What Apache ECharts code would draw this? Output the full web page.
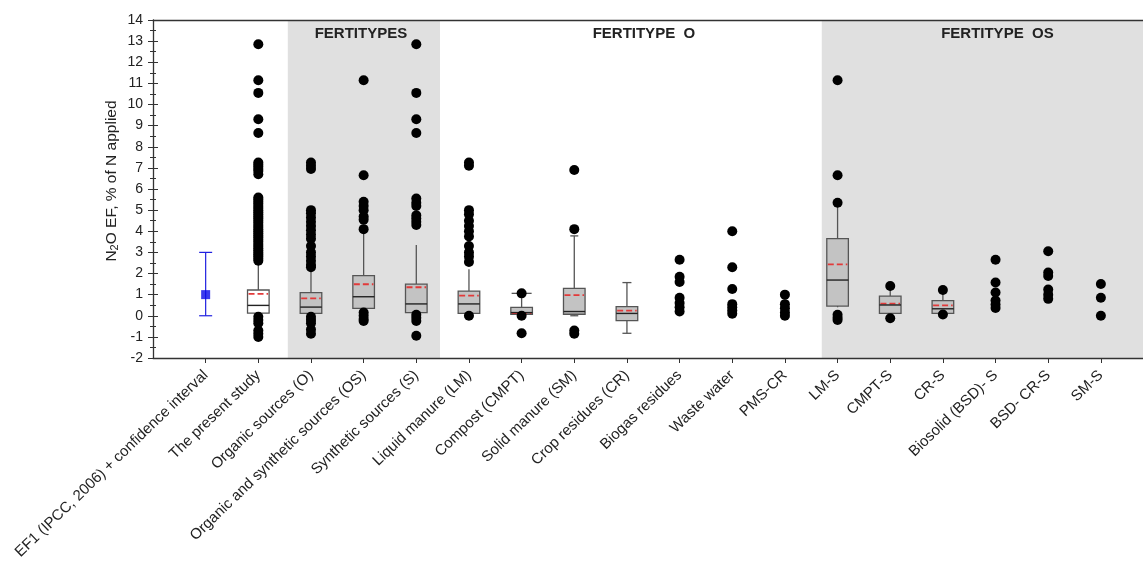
<!DOCTYPE html>
<html><head><meta charset="utf-8">
<script src="https://cdn.jsdelivr.net/npm/echarts/dist/echarts.min.js"></script>
<style>html,body{margin:0;padding:0;background:#fff}#c{width:1143px;height:570px}</style>
</head><body><div id="c"></div>
<script>
// ---------------- DATA ----------------
const CATEGORIES = [
  'EF1 (IPCC, 2006) + confidence interval', 'The present study', 'Organic sources (O)',
  'Organic and synthetic sources (OS)', 'Synthetic sources (S)', 'Liquid manure (LM)',
  'Compost (CMPT)', 'Solid manure (SM)', 'Crop residues (CR)', 'Biogas residues',
  'Waste water', 'PMS-CR', 'LM-S', 'CMPT-S', 'CR-S', 'Biosolid (BSD)- S', 'BSD- CR-S', 'SM-S'
];
const Y_TICKS = [-2,-1,0,1,2,3,4,5,6,7,8,9,10,11,12,13,14];

// IPCC EF1 default value and confidence interval
const EF1_VALUE = 1.0;
const EF1_CI = [0.0, 3.0];

// box statistics per category (null = no box)
const BOX_LOW  = [null, 0.05, 0.05, 0.30, 0.10, 0.10, 0.07, 0.00, -0.83, null, null, null, 0.40, 0.10, 0.10, null, null, null];
const BOX_Q1   = [null, 0.12, 0.11, 0.35, 0.15, 0.11, 0.07, 0.07, -0.23, null, null, null, 0.46, 0.11, 0.11, null, null, null];
const BOX_MED  = [null, 0.49, 0.41, 0.90, 0.56, 0.56, 0.15, 0.20, 0.11, null, null, null, 1.69, 0.51, 0.33, null, null, null];
const BOX_Q3   = [null, 1.22, 1.09, 1.90, 1.50, 1.17, 0.40, 1.30, 0.43, null, null, null, 3.65, 0.93, 0.72, null, null, null];
const BOX_HIGH = [null, 2.55, 2.20, 4.00, 3.35, 2.20, 1.06, 3.78, 1.57, null, null, null, 5.30, 1.38, 1.18, null, null, null];
const BOX_MEAN = [null, 1.04, 0.82, 1.49, 1.35, 0.95, 0.13, 0.98, 0.24, null, null, null, 2.43, 0.57, 0.49, null, null, null];

// individual points (outliers / raw values) per category
const PTS_EF1    = [];
const PTS_STUDY  = [12.85, 11.15, 10.55, 9.3, 8.65, 7.25, 7.15, 7.05, 6.95, 6.85, 6.7,
                    5.6, 5.5, 5.4, 5.3, 5.2, 5.1, 5.0, 4.9, 4.8, 4.7, 4.6, 4.5, 4.4, 4.3, 4.2, 4.1,
                    4.0, 3.9, 3.8, 3.7, 3.6, 3.5, 3.4, 3.3, 3.2, 3.1, 3.0, 2.9, 2.8, 2.7, 2.6,
                    -0.05, -0.2, -0.35, -0.7, -0.85, -1.0];
const PTS_O      = [7.25, 7.1, 6.95, 5.0, 4.85, 4.65, 4.45, 4.25, 4.05, 3.85, 3.65, 3.3, 3.0, 2.8, 2.6, 2.4, 2.3,
                    -0.05, -0.2, -0.35, -0.65, -0.85];
const PTS_OS     = [11.15, 6.65, 5.4, 5.2, 5.0, 4.7, 4.55, 4.1, 0.15, 0.0, -0.15, -0.25];
const PTS_S      = [12.85, 10.55, 9.3, 8.65, 5.55, 5.35, 5.2, 4.75, 4.6, 4.45, 4.3, 0.05, -0.1, -0.25, -0.95];
const PTS_LM     = [7.25, 7.1, 5.0, 4.8, 4.5, 4.25, 4.0, 3.75, 3.3, 3.0, 2.8, 2.55, 0.0];
const PTS_CMPT   = [1.06, 0.0, -0.83];
const PTS_SM     = [6.9, 4.1, -0.7, -0.85];
const PTS_CR     = [];
const PTS_BIOGAS = [2.65, 1.85, 1.6, 0.85, 0.6, 0.4, 0.2];
const PTS_WASTE  = [4.0, 2.3, 1.27, 0.55, 0.4, 0.25, 0.1];
const PTS_PMSCR  = [1.0, 0.55, 0.35, 0.15, 0.0];
const PTS_LMS    = [11.15, 6.65, 5.35, 0.05, -0.1, -0.2];
const PTS_CMPTS  = [1.41, -0.12];
const PTS_CRS    = [1.22, 0.06];
const PTS_BSDS   = [2.65, 1.57, 1.1, 0.72, 0.53, 0.37];
const PTS_BSDCRS = [3.05, 2.05, 1.88, 1.24, 1.0, 0.8];
const PTS_SMS    = [1.5, 0.85, 0.0];

// ---------------- STYLE ----------------
const POINT_GROUPS = [PTS_EF1, PTS_STUDY, PTS_O, PTS_OS, PTS_S, PTS_LM, PTS_CMPT, PTS_SM, PTS_CR,
  PTS_BIOGAS, PTS_WASTE, PTS_PMSCR, PTS_LMS, PTS_CMPTS, PTS_CRS, PTS_BSDS, PTS_BSDCRS, PTS_SMS];
const BOX_FILL = CATEGORIES.map((c, k) => k === 1 ? '#ffffff' : '#c3c3c3');
const CAP_TOP = [0, 0, 0, 0, 0, 0, 20, 8, 9, 0, 0, 0, 0, 0, 0, 0, 0, 0];
const CAP_BOTTOM = [0, 0, 0, 0, 0, 0, 0, 8, 9, 0, 0, 0, 0, 0, 0, 0, 0, 0];
const FONT = '"Liberation Sans", Arial, Helvetica, sans-serif';

const boxData = [];
BOX_Q1.forEach((q1, k) => {
  if (q1 === null) return;
  boxData.push([k + 1, BOX_LOW[k], q1, BOX_MED[k], BOX_Q3[k], BOX_HIGH[k], BOX_MEAN[k], k]);
});
const pointData = [];
POINT_GROUPS.forEach((arr, k) => arr.forEach(v => pointData.push([k + 1, v])));

function renderBox(params, api) {
  const xv = api.value(0), k = api.value(7);
  const pLo = api.coord([xv, api.value(1)]);
  const pQ1 = api.coord([xv, api.value(2)]);
  const pMed = api.coord([xv, api.value(3)]);
  const pQ3 = api.coord([xv, api.value(4)]);
  const pHi = api.coord([xv, api.value(5)]);
  const pMean = api.coord([xv, api.value(6)]);
  const x = pLo[0];
  const hw = api.size([1, 0])[0] * 0.205;
  const stroke = '#555555';
  const ch = [];
  ch.push({type: 'line', shape: {x1: x, y1: pQ3[1], x2: x, y2: pHi[1]}, style: {stroke, lineWidth: 1.3}});
  ch.push({type: 'line', shape: {x1: x, y1: pQ1[1], x2: x, y2: pLo[1]}, style: {stroke, lineWidth: 1.3}});
  if (CAP_TOP[k]) ch.push({type: 'line', shape: {x1: x - CAP_TOP[k] / 2, y1: pHi[1], x2: x + CAP_TOP[k] / 2, y2: pHi[1]}, style: {stroke, lineWidth: 1.3}});
  if (CAP_BOTTOM[k]) ch.push({type: 'line', shape: {x1: x - CAP_BOTTOM[k] / 2, y1: pLo[1], x2: x + CAP_BOTTOM[k] / 2, y2: pLo[1]}, style: {stroke, lineWidth: 1.3}});
  ch.push({type: 'rect', shape: {x: x - hw, y: pQ3[1], width: hw * 2, height: pQ1[1] - pQ3[1]},
    style: {fill: BOX_FILL[k], stroke, lineWidth: 1.3}});
  ch.push({type: 'line', shape: {x1: x - hw + 1, y1: pMean[1], x2: x + hw - 1, y2: pMean[1]},
    style: {stroke: '#e23a3a', lineWidth: 1.8, lineDash: [6, 3]}});
  ch.push({type: 'line', shape: {x1: x - hw, y1: pMed[1], x2: x + hw, y2: pMed[1]}, style: {stroke: '#222', lineWidth: 1.4}});
  return {type: 'group', children: ch};
}

function renderErr(params, api) {
  const xv = api.value(0);
  const pLo = api.coord([xv, api.value(1)]);
  const pHi = api.coord([xv, api.value(2)]);
  const x = pLo[0], c = 6.5, stroke = '#2020e0';
  return {type: 'group', children: [
    {type: 'line', shape: {x1: x, y1: pLo[1], x2: x, y2: pHi[1]}, style: {stroke, lineWidth: 1.2}},
    {type: 'line', shape: {x1: x - c, y1: pLo[1], x2: x + c, y2: pLo[1]}, style: {stroke, lineWidth: 1.2}},
    {type: 'line', shape: {x1: x - c, y1: pHi[1], x2: x + c, y2: pHi[1]}, style: {stroke, lineWidth: 1.2}}
  ]};
}

const titleLabel = (txt, off) => ({show: true, position: 'insideTop', distance: 6, offset: off || [0, 0],
  formatter: txt, color: '#222', fontWeight: 'bold', fontSize: 15, fontFamily: FONT});

const chart = echarts.init(document.getElementById('c'), null, {renderer: 'canvas'});
chart.setOption({
  animation: false,
  backgroundColor: '#ffffff',
  grid: {left: 153, right: 0, top: 20, bottom: 212},
  xAxis: [{
    type: 'value', min: 0, max: 18.8, interval: 1, position: 'bottom', z: 5,
    axisLine: {show: true, onZero: false, lineStyle: {color: '#333', width: 1.3}},
    axisTick: {show: true, length: 5, lineStyle: {color: '#333'}},
    splitLine: {show: false},
    axisLabel: {rotate: 44, margin: 15, fontSize: 15, color: '#222', fontFamily: FONT,
      showMinLabel: false, showMaxLabel: false,
      formatter: v => (Number.isInteger(v) && v >= 1 && v <= CATEGORIES.length) ? CATEGORIES[v - 1] : ''}
  }, {
    type: 'value', min: 0, max: 18.8, position: 'top', z: 5,
    axisLine: {show: true, onZero: false, lineStyle: {color: '#333', width: 1.3}},
    axisTick: {show: false}, axisLabel: {show: false}, splitLine: {show: false}
  }],
  yAxis: [{
    type: 'value', min: -2, max: 14, interval: 1, z: 5,
    axisLine: {show: true, onZero: false, lineStyle: {color: '#333', width: 1.3}},
    axisTick: {show: true, length: 5, lineStyle: {color: '#333'}},
    minorTick: {show: true, splitNumber: 2, length: 3, lineStyle: {color: '#333'}},
    splitLine: {show: false},
    axisLabel: {margin: 10, fontSize: 14, color: '#222', fontFamily: FONT,
      formatter: v => Y_TICKS.includes(v) ? String(v) : ''},
    name: 'N{sub|2}O EF, % of N applied', nameLocation: 'middle', nameGap: 33, nameRotate: 90,
    nameMoveOverlap: false,
    nameTextStyle: {fontSize: 15.5, color: '#222', fontFamily: FONT, padding: [0, 0, 0, 16],
      rich: {sub: {fontSize: 11, fontFamily: FONT, color: '#222', verticalAlign: 'bottom', padding: [6, 0, 0, 0]}}}
  }, {
    type: 'value', min: -2, max: 14, interval: 1, position: 'left', z: 5,
    axisLine: {show: false},
    axisTick: {show: true, inside: true, length: 5, lineStyle: {color: '#333'}},
    minorTick: {show: true, splitNumber: 2, length: 3, lineStyle: {color: '#333'}},
    splitLine: {show: false}, axisLabel: {show: false}
  }],
  series: [{
    type: 'custom', name: 'boxes', renderItem: renderBox, data: boxData, z: 2,
    encode: {x: 0, y: [1, 2, 3, 4, 5, 6]},
    markArea: {
      silent: true,
      itemStyle: {color: '#e0e0e0'},
      data: [
        [{xAxis: 2.56, label: titleLabel('FERTITYPES', [-3, 0])}, {xAxis: 5.45}],
        [{xAxis: 5.45, itemStyle: {color: 'rgba(0,0,0,0)'}, label: titleLabel('FERTITYPE  O', [13, 0])}, {xAxis: 12.7}],
        [{xAxis: 12.7, label: titleLabel('FERTITYPE  OS', [15, 0])}, {xAxis: 18.8}]
      ]
    }
  }, {
    type: 'scatter', name: 'points', data: pointData, z: 3,
    symbol: 'circle', symbolSize: 10, itemStyle: {color: '#000', opacity: 1}
  }, {
    type: 'custom', name: 'ef1ci', renderItem: renderErr, z: 3,
    data: [[1, EF1_CI[0], EF1_CI[1]]], encode: {x: 0, y: [1, 2]}
  }, {
    type: 'scatter', name: 'ef1', data: [[1, EF1_VALUE]], z: 4,
    symbol: 'rect', symbolSize: 9, itemStyle: {color: '#0a0ae8'}
  }]
});
</script>
</body></html>
